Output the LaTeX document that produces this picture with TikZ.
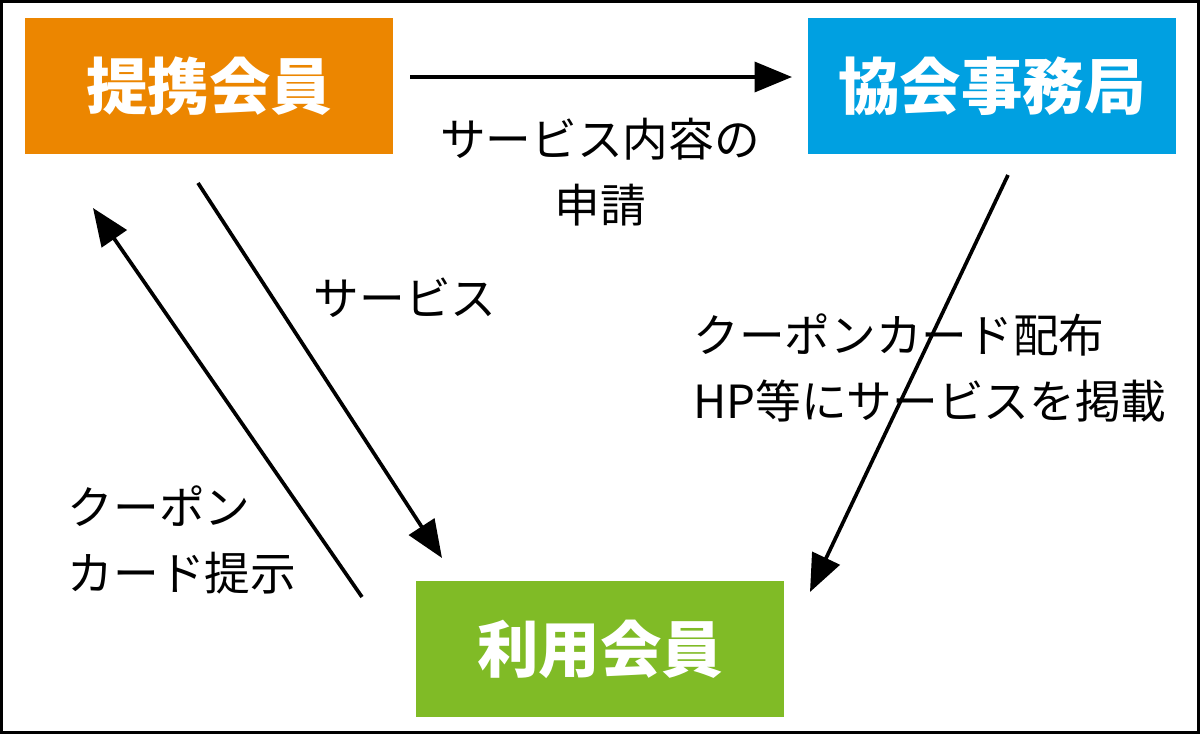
\documentclass[tikz,border=0pt]{standalone}
\usepackage{fontspec}
\setmainfont{Noto Sans CJK JP}
\usetikzlibrary{arrows.meta,positioning}
\tikzset{
  member/.style={rectangle, minimum width=7.36cm, minimum height=2.74cm, text=white, font=\fontsize{35}{38}\selectfont\bfseries},
  flow/.style={line width=2.1pt, -{Triangle[length=0.75cm,width=0.6cm]}},
  note/.style={font=\fontsize{26}{38}\selectfont, align=left, inner sep=0pt}
}
\begin{document}
\begin{tikzpicture}[x=0.02cm, y=-0.02cm]
    \useasboundingbox (0,0) rectangle (1200,734);
    \draw[line width=2pt] (1.5,1.5) rectangle (1198.5,732.5);
    \node[member, fill={rgb,255:red,236;green,134;blue,0}]  (partner) at (209,86)  {提携会員};
    \node[member, fill={rgb,255:red,0;green,160;blue,225}]  (office)  at (992,86)  {協会事務局};
    \node[member, fill={rgb,255:red,128;green,187;blue,38}] (user)    at (600,649) {利用会員};

    \coordinate (a1) at (410,77);   \coordinate (a2) at (792,77);
    \coordinate (b1) at (198,183);  \coordinate (b2) at (442,558);
    \coordinate (c1) at (362,597);  \coordinate (c2) at (93,208);
    \coordinate (d1) at (1008,175); \coordinate (d2) at (810,592);

    \draw[flow] (a1) -- (a2);
    \draw[flow] (b1) -- (b2);
    \draw[flow] (c1) -- (c2);
    \draw[flow] (d1) -- (d2);

    \node[note, align=center] (apply)  at (600,172) {サービス内容の\\申請};
    \node[note]               (serv)   at (405,298) {サービス};
    \node[note]               (coupon) at (930,368) {クーポンカード配布\\HP等にサービスを掲載};
    \node[note]               (show)   at (182,540) {クーポン\\カード提示};
\end{tikzpicture}
\end{document}
